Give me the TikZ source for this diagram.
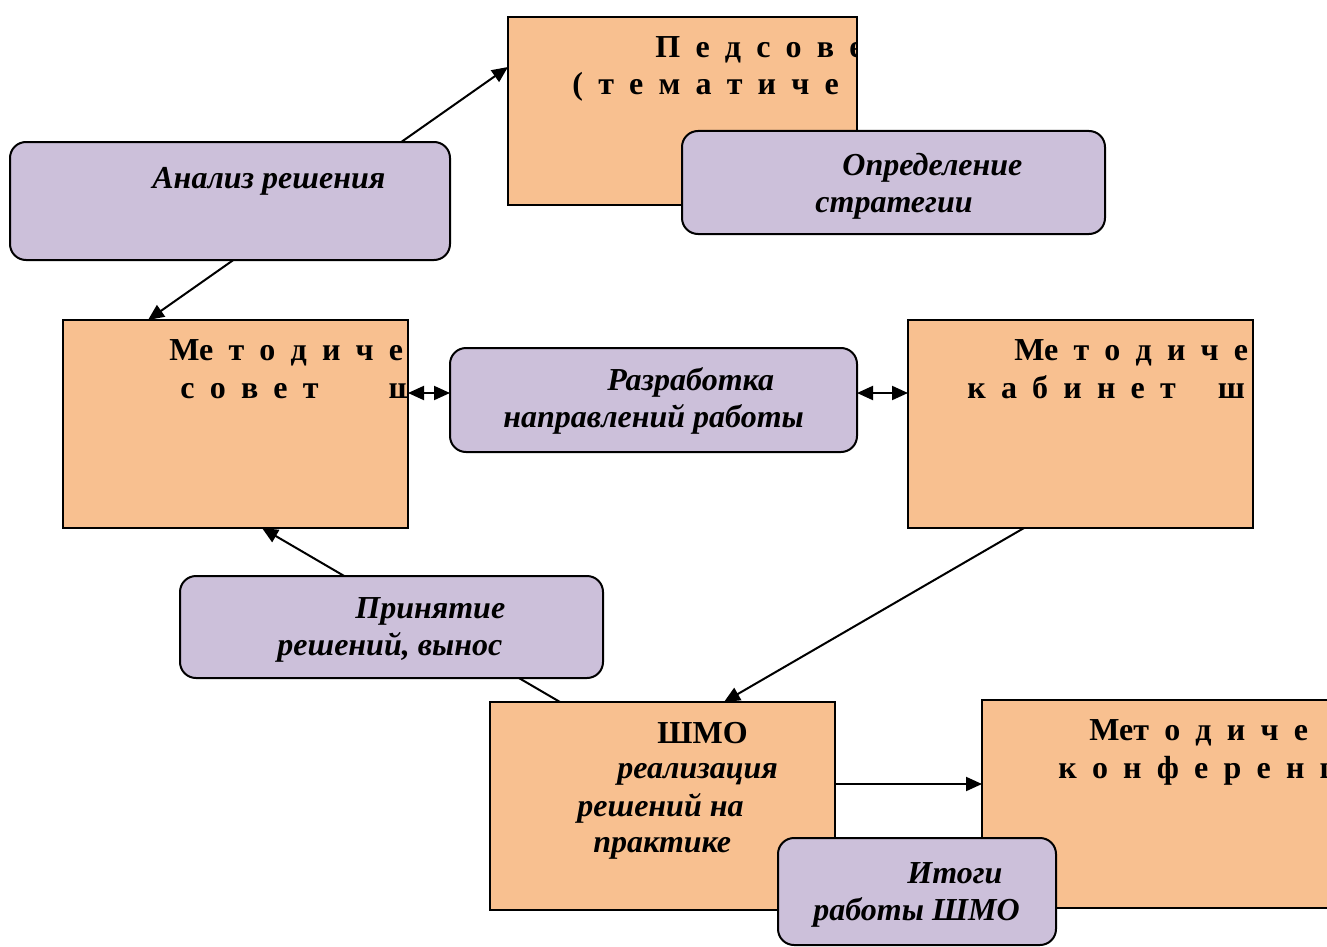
\documentclass[tikz,border=0pt]{standalone}
\usepackage{fontspec}
\setmainfont{Liberation Serif}
\usetikzlibrary{arrows.meta}
\definecolor{orfill}{RGB}{248,192,144}
\definecolor{pufill}{RGB}{204,192,218}
\newcommand\spacedtxt[1]{{\spaceskip=7.6pt plus 0pt minus 0pt\relax #1}}
\tikzset{
  obox/.style={draw=black, line width=1pt, fill=orfill, inner sep=0pt, outer sep=0pt, anchor=north west},
  pbox/.style={draw=black, line width=1pt, fill=pufill, rounded corners=8pt, inner sep=0pt, outer sep=0pt, anchor=north west},
  conn/.style={line width=1pt, draw=black},
  tip/.style={-{Triangle[length=8pt,width=7pt]}},
  dtip/.style={{Triangle[length=8pt,width=7pt]}-{Triangle[length=8pt,width=7pt]}},
  btxt/.style={anchor=base west, inner sep=0pt, font=\fontsize{16}{19}\selectfont\bfseries},
  itxt/.style={anchor=base west, inner sep=0pt, font=\fontsize{16}{19}\selectfont\bfseries\itshape},
}
\begin{document}
\begin{tikzpicture}[x=0.5pt, y=-0.5pt]
\useasboundingbox (0,0) rectangle (1327,947);
\clip (0,0) rectangle (1327,947);
% orange boxes
\node[obox, minimum width=174.5pt, minimum height=94pt] (ped) at (508,17) {};
\begin{scope}\clip (509,18) rectangle (856,204);
\node[btxt] (pedt1) at (655,58) {\spacedtxt{П е д с о в е}};
\node[btxt] (pedt2) at (572,95) {\spacedtxt{( т е м а т и ч е}};
\end{scope}
\node[obox, minimum width=172.5pt, minimum height=104pt] (msov) at (63,320) {};
\begin{scope}\clip (64,321) rectangle (407,527);
\node[btxt] (msovt1) at (169,360) {\spacedtxt{Ме т о д и ч е}};
\node[btxt] (msovt2) at (180,398) {\spacedtxt{с о в е т\hspace{35pt}ш}};
\end{scope}
\node[obox, minimum width=172.5pt, minimum height=104pt] (mkab) at (908,320) {};
\begin{scope}\clip (909,321) rectangle (1252,527);
\node[btxt] (mkabt1) at (1014,360) {\spacedtxt{Ме т о д и ч е}};
\node[btxt] (mkabt2) at (967,398) {\spacedtxt{к а б и н е т\hspace{21pt}ш}};
\end{scope}
\node[obox, minimum width=172.5pt, minimum height=104pt] (shmo) at (490,702) {};
\node[btxt] (shmot1) at (657,743) {ШМО};
\node[itxt] (shmot2) at (617,778) {реализация};
\node[itxt] (shmot3) at (577,816) {решений на};
\node[itxt] (shmot4) at (593,852) {практике};
\node[obox, minimum width=179pt, minimum height=104pt] (konf) at (982,700) {};
\begin{scope}\clip (983,701) rectangle (1327,907);
\node[btxt] (konft1) at (1089,740) {\spacedtxt{Мет о д и ч е}};
\node[btxt] (konft2) at (1058,778) {\spacedtxt{к о н ф е р е н ц}};
\end{scope}
% connectors
\draw[conn, dtip] ([xshift=42.5pt]msov.north west) -- ([yshift=-25pt]ped.north west);
\draw[conn, tip] ([xshift=35pt]shmo.north west) -- ([xshift=99.5pt]msov.south west);
\draw[conn, tip] ([xshift=58pt]mkab.south west) -- ([xshift=117pt]shmo.north west);
\coordinate (shmoR) at ([yshift=-41pt]shmo.north east);
\draw[conn, tip] (shmoR) -- (shmoR -| konf.west);
% purple boxes
\node[pbox, minimum width=211.5pt, minimum height=51.5pt] (opr) at (682,131) {};
\node[itxt] (oprt1) at (842,176) {Определение};
\node[itxt] (oprt2) at (815,212) {стратегии};
\node[pbox, minimum width=220pt, minimum height=59pt] (anal) at (10,142) {};
\node[itxt] (analt) at (152,188) {Анализ решения};
\node[pbox, minimum width=203.5pt, minimum height=52pt] (razr) at (450,348) {};
\node[itxt] (razrt1) at (607,390) {Разработка};
\node[itxt] (razrt2) at (503,427) {направлений работы};
\node[pbox, minimum width=211.5pt, minimum height=51pt] (prin) at (180,576) {};
\node[itxt] (print1) at (355,618) {Принятие};
\node[itxt] (print2) at (277,655) {решений, вынос};
\node[pbox, minimum width=139pt, minimum height=53.5pt] (itog) at (778,838) {};
\node[itxt] (itogt1) at (907,883) {Итоги};
\node[itxt] (itogt2) at (813,920) {работы ШМО};
% double arrows between middle row
\coordinate (msovR) at ([yshift=-36.5pt]msov.north east);
\draw[conn, dtip] (msovR) -- (msovR -| razr.west);
\coordinate (razrR) at ([yshift=-22.5pt]razr.north east);
\draw[conn, dtip] (razrR) -- (razrR -| mkab.west);
\end{tikzpicture}
\end{document}
